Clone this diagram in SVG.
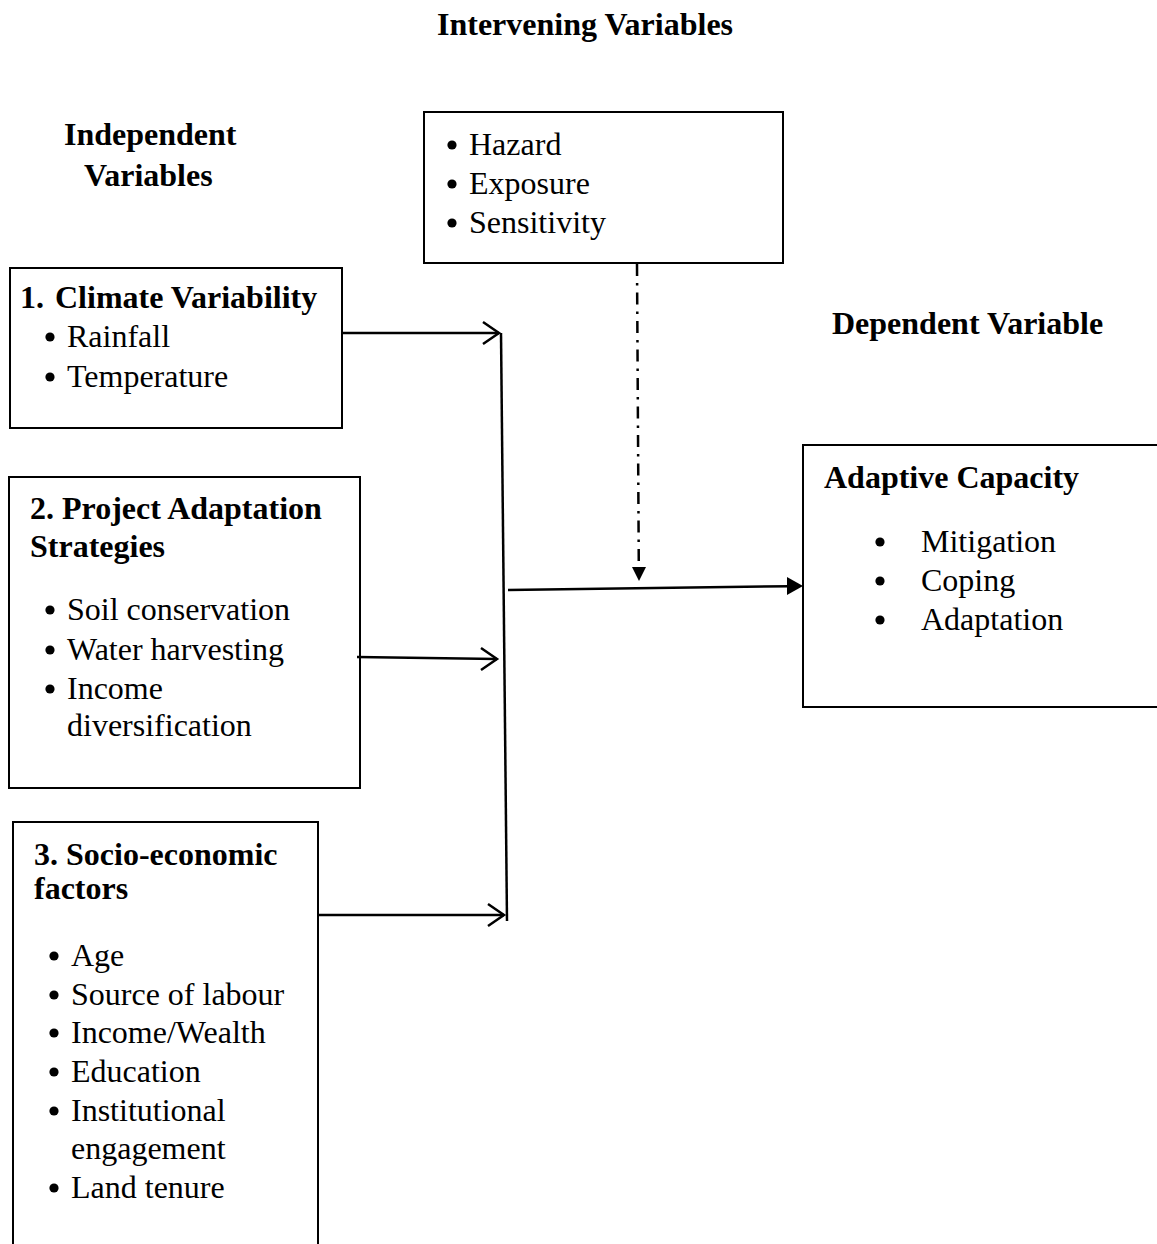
<svg xmlns="http://www.w3.org/2000/svg" width="1157" height="1244" viewBox="0 0 1157 1244">
<style>
text{font-family:"Liberation Serif","Times New Roman",serif;font-size:32px;fill:#000}
.b{font-weight:bold}
.dot{fill:#000}
.box{fill:none;stroke:#000;stroke-width:2}
.ln{fill:none;stroke:#000;stroke-width:2.5}
.chev{fill:none;stroke:#000;stroke-width:2.5}
.dd{fill:none;stroke:#000;stroke-width:2.5;stroke-dasharray:12 7 2.5 7}
</style>
<rect width="1157" height="1244" fill="#fff"/>
<g id="labels">
<text class="b" x="437" y="35">Intervening Variables</text>
<text class="b" x="64" y="145">Independent</text>
<text class="b" x="84" y="186">Variables</text>
<text class="b" x="832" y="334">Dependent Variable</text>
</g>
<g id="intervening">
<rect class="box" x="424" y="112" width="359" height="151"/>
<circle class="dot" cx="452" cy="145" r="4.6"/><text x="469" y="155">Hazard</text>
<circle class="dot" cx="452" cy="184" r="4.6"/><text x="469" y="194">Exposure</text>
<circle class="dot" cx="452" cy="223" r="4.6"/><text x="469" y="233">Sensitivity</text>
</g>
<g id="climate">
<rect class="box" x="10" y="268" width="332" height="160"/>
<text class="b" x="20" y="308">1.</text><text class="b" x="55" y="308">Climate Variability</text>
<circle class="dot" cx="50" cy="337" r="4.6"/><text x="67" y="347">Rainfall</text>
<circle class="dot" cx="50" cy="377" r="4.6"/><text x="67" y="387">Temperature</text>
</g>
<g id="project">
<rect class="box" x="9" y="477" width="351" height="311"/>
<text class="b" x="30" y="519">2. Project Adaptation</text>
<text class="b" x="30" y="557">Strategies</text>
<circle class="dot" cx="50" cy="610" r="4.6"/><text x="67" y="620">Soil conservation</text>
<circle class="dot" cx="50" cy="650" r="4.6"/><text x="67" y="660">Water harvesting</text>
<circle class="dot" cx="50" cy="689" r="4.6"/><text x="67" y="699">Income</text>
<text x="67" y="736">diversification</text>
</g>
<g id="socio">
<path class="box" d="M13,1250 V822 H318 V1250"/>
<text class="b" x="34" y="865">3. Socio-economic</text>
<text class="b" x="34" y="899">factors</text>
<circle class="dot" cx="54" cy="956" r="4.6"/><text x="71" y="966">Age</text>
<circle class="dot" cx="54" cy="995" r="4.6"/><text x="71" y="1005">Source of labour</text>
<circle class="dot" cx="54" cy="1033" r="4.6"/><text x="71" y="1043">Income/Wealth</text>
<circle class="dot" cx="54" cy="1072" r="4.6"/><text x="71" y="1082">Education</text>
<circle class="dot" cx="54" cy="1111" r="4.6"/><text x="71" y="1121">Institutional</text>
<text x="71" y="1159">engagement</text>
<circle class="dot" cx="54" cy="1188" r="4.6"/><text x="71" y="1198">Land tenure</text>
</g>
<g id="adaptive">
<rect class="box" x="803" y="445" width="360" height="262"/>
<text class="b" x="824" y="488">Adaptive Capacity</text>
<circle class="dot" cx="880" cy="542" r="4.6"/><text x="921" y="552">Mitigation</text>
<circle class="dot" cx="880" cy="581" r="4.6"/><text x="921" y="591">Coping</text>
<circle class="dot" cx="880" cy="620" r="4.6"/><text x="921" y="630">Adaptation</text>
</g>
<g id="connectors">
<path class="ln" d="M501,333 L507,921"/>
<path class="ln" d="M342,333 H499"/>
<path class="chev" d="M483,322 L499,333 L483,344"/>
<path class="ln" d="M357,657 L497,659"/>
<path class="chev" d="M481,648 L497,659 L481,670"/>
<path class="ln" d="M318,915 H504"/>
<path class="chev" d="M488,904 L504,915 L488,926"/>
<path class="ln" d="M508,590 L790,586.2"/>
<path d="M803,586 L787,577 L787,595 Z" fill="#000"/>
<path class="dd" d="M637,264 L638.8,567"/>
<path d="M639,581 L632,567 L646,567 Z" fill="#000"/>
</g>
</svg>
